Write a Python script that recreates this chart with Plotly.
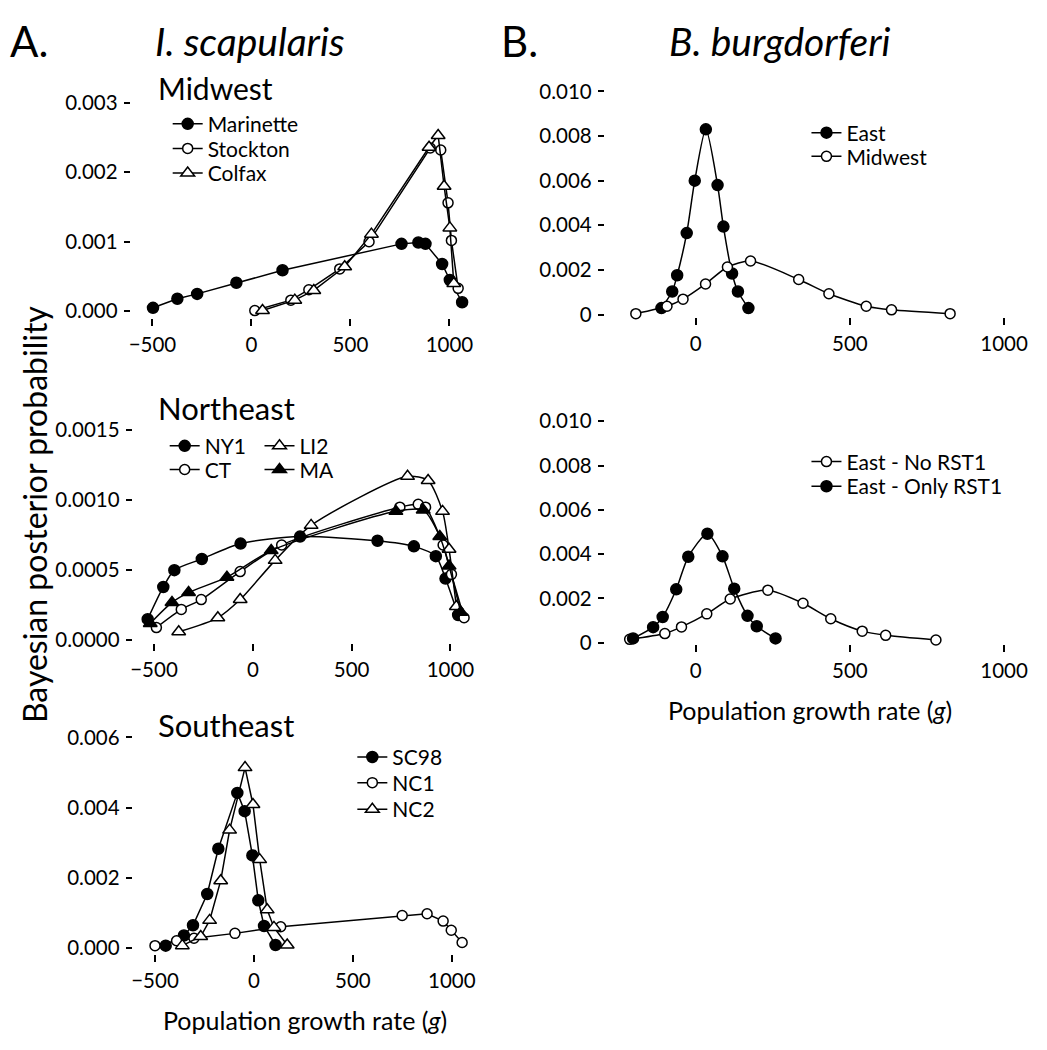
import plotly.graph_objects as go

W, H = 1047, 1050
FONT = "Lato"

# ---------------- data ----------------
# Panel A - Midwest
mw_marinette_g = [-497, -374, -274, -76, 157, 758, 843, 879, 963, 1002, 1064]
mw_marinette_p = [0.00005, 0.00018, 0.00025, 0.00041, 0.00059, 0.00097, 0.00099, 0.00097, 0.00068, 0.00045, 0.00013]
mw_stockton_g = [17, 199, 290, 446, 594, 903, 956, 993, 1010, 1044]
mw_stockton_p = [0.00001, 0.00016, 0.00031, 0.00061, 0.00100, 0.00235, 0.00232, 0.00156, 0.00102, 0.00033]
mw_colfax_g = [56, 219, 315, 471, 606, 897, 943, 973, 1002, 1022]
mw_colfax_p = [0.00001, 0.00016, 0.00030, 0.00064, 0.00111, 0.00236, 0.00253, 0.00180, 0.00120, 0.00040]

# Panel A - Northeast
ne_ny1_g = [-532, -453, -397, -258, -62, 239, 631, 815, 926, 975, 1039]
ne_ny1_p = [0.00015, 0.00038, 0.00050, 0.00058, 0.00069, 0.00074, 0.00071, 0.00067, 0.00060, 0.00044, 0.00018]
ne_ct_g = [-488, -362, -261, -64, 146, 744, 837, 874, 963, 1005, 1069]
ne_ct_p = [0.00009, 0.00022, 0.00029, 0.00049, 0.00068, 0.00095, 0.00097, 0.00095, 0.00068, 0.00047, 0.00016]
ne_li2_g = [-375, -177, -64, 113, 295, 783, 887, 960, 993, 1030]
ne_li2_p = [0.00006, 0.00016, 0.00029, 0.00057, 0.00082, 0.00117, 0.00114, 0.00092, 0.00065, 0.00024]
ne_ma_g = [-519, -409, -325, -131, 93, 724, 862, 946, 993, 1052]
ne_ma_p = [0.00012, 0.00027, 0.00034, 0.00045, 0.00064, 0.00092, 0.00093, 0.00074, 0.00053, 0.00020]

# Panel A - Southeast
se_sc98_g = [-446, -354, -308, -236, -180, -84, -47, -8, 22, 51, 109]
se_sc98_p = [0.00007, 0.00036, 0.00065, 0.00154, 0.00283, 0.00442, 0.00390, 0.00264, 0.00136, 0.00063, 0.00009]
se_nc1_g = [-500, -391, -303, -96, 135, 749, 875, 956, 997, 1052]
se_nc1_p = [0.00007, 0.00021, 0.00028, 0.00042, 0.00061, 0.00093, 0.00098, 0.00077, 0.00051, 0.00016]
se_nc2_g = [-362, -269, -224, -168, -123, -45, -5, 29, 67, 101, 168]
se_nc2_p = [0.00007, 0.00033, 0.00079, 0.00192, 0.00336, 0.00514, 0.00409, 0.00252, 0.00109, 0.00059, 0.00009]

# Panel B - top
b_east_g = [-111, -76, -60, -29, -3, 33, 71, 90, 118, 137, 171]
b_east_p = [0.00029, 0.00103, 0.00176, 0.00365, 0.00600, 0.00830, 0.00580, 0.00394, 0.00184, 0.00103, 0.00029]
b_midwest_g = [-194, -93, -41, 32, 103, 178, 334, 432, 553, 635, 825]
b_midwest_p = [0.00004, 0.00037, 0.00069, 0.00137, 0.00213, 0.00240, 0.00157, 0.00093, 0.00037, 0.00021, 0.00004]

# Panel B - bottom
b_norst_g = [-214, -100, -46, 36, 112, 234, 348, 438, 540, 616, 779]
b_norst_p = [0.00015, 0.00041, 0.00071, 0.00130, 0.00197, 0.00237, 0.00178, 0.00108, 0.00052, 0.00033, 0.00012]
b_onlyrst_g = [-203, -138, -107, -63, -24, 38, 87, 125, 168, 198, 259]
b_onlyrst_p = [0.00019, 0.00070, 0.00116, 0.00241, 0.00388, 0.00492, 0.00390, 0.00244, 0.00121, 0.00074, 0.00019]

# tick labels
a_x_ticks = [-500, 0, 500, 1000]
b_x_ticks = [0, 500, 1000]
mw_y_ticks = [0.0, 0.001, 0.002, 0.003]
mw_y_labels = ["0.000", "0.001", "0.002", "0.003"]
ne_y_ticks = [0.0, 0.0005, 0.0010, 0.0015]
ne_y_labels = ["0.0000", "0.0005", "0.0010", "0.0015"]
se_y_ticks = [0.0, 0.002, 0.004, 0.006]
se_y_labels = ["0.000", "0.002", "0.004", "0.006"]
b_y_ticks = [0.0, 0.002, 0.004, 0.006, 0.008, 0.010]
b_y_labels = ["0", "0.002", "0.004", "0.006", "0.008", "0.010"]

# ---------------- helpers ----------------
def x_axis_geom(pa, va, pb, vb, plo, phi):
    s = (vb - va) / (pb - pa)
    return [plo / W, phi / W], [va + (plo - pa) * s, va + (phi - pa) * s]


def y_axis_geom(pa, va, pb, vb, pbot, ptop):
    s = (vb - va) / (pb - pa)
    return [1 - pbot / H, 1 - ptop / H], [va + (pbot - pa) * s, va + (ptop - pa) * s]


STYLES = {
    "fc": dict(symbol="circle", size=11, color="black", line=dict(color="black", width=1.5)),
    "oc": dict(symbol="circle", size=10, color="white", line=dict(color="black", width=1.5)),
    "ot": dict(symbol="triangle-up", size=12, color="white", line=dict(color="black", width=1.5)),
    "ft": dict(symbol="triangle-up", size=12, color="black", line=dict(color="black", width=1.5)),
}

fig = go.Figure()
LEGFONT = dict(family=FONT, size=21, color="black")
legends = {}


def add(g, p, name, style, ax, leg_xy, shape="linear"):
    key = "legend" if not legends else "legend%d" % (len(legends) + 1)
    lx, ly = leg_xy
    legends[key] = dict(x=lx / W, y=1 - (ly - 3) / H, xref="paper", yref="paper",
                        xanchor="left", yanchor="middle", bgcolor="rgba(0,0,0,0)",
                        borderwidth=0, font=LEGFONT, visible=True)
    fig.add_trace(go.Scatter(
        x=g, y=p, name=name, mode="lines+markers", showlegend=True,
        line=dict(color="black", width=1.5, shape=shape, smoothing=0.7),
        marker=STYLES[style],
        xaxis="x" + ax, yaxis="y" + ax, legend=key, cliponaxis=False,
    ))


add(mw_marinette_g, mw_marinette_p, "Marinette", "fc", "", (166, 123))
add(mw_stockton_g, mw_stockton_p, "Stockton", "oc", "", (166, 148))
add(mw_colfax_g, mw_colfax_p, "Colfax", "ot", "", (166, 173))

add(ne_ny1_g, ne_ny1_p, "NY1", "fc", "2", (163, 450), "spline")
add(ne_ct_g, ne_ct_p, "CT", "oc", "2", (163, 474), "spline")
add(ne_li2_g, ne_li2_p, "LI2", "ot", "2", (258, 450), "spline")
add(ne_ma_g, ne_ma_p, "MA", "ft", "2", (258, 474), "spline")

add(se_sc98_g, se_sc98_p, "SC98", "fc", "3", (351, 766))
add(se_nc1_g, se_nc1_p, "NC1", "oc", "3", (351, 792))
add(se_nc2_g, se_nc2_p, "NC2", "ot", "3", (351, 819))

add(b_east_g, b_east_p, "East", "fc", "4", (806, 132), "spline")
add(b_midwest_g, b_midwest_p, "Midwest", "oc", "4", (806, 156), "spline")

add(b_norst_g, b_norst_p, "East - No RST1", "oc", "5", (806, 466), "spline")
add(b_onlyrst_g, b_onlyrst_p, "East - Only RST1", "fc", "5", (806, 491), "spline")

fig.update_layout(showlegend=True, **legends)

# ---------------- axes ----------------
TICKFONT = dict(family=FONT, size=20.5, color="black")


def xax(domain, rng, tickvals, anchor):
    return dict(domain=domain, range=rng, tickvals=tickvals, ticks="outside", ticklen=7,
                tickwidth=1.5, tickcolor="black", showline=False, showgrid=False,
                zeroline=False, tickfont=TICKFONT, anchor=anchor, ticklabelstandoff=1)


def yax(domain, rng, tickvals, ticktext, anchor):
    return dict(domain=domain, range=rng, tickvals=tickvals, ticktext=ticktext, ticks="outside",
                ticklen=6, tickwidth=1.5, tickcolor="black", showline=False, showgrid=False,
                zeroline=False, tickfont=TICKFONT, anchor=anchor, ticklabelstandoff=2)


a1x_d, a1x_r = x_axis_geom(150.7, -500, 448.3, 1000, 129, 475)
a1y_d, a1y_r = y_axis_geom(310, 0, 98.3, 0.003, 317, 88)
a2x_d, a2x_r = x_axis_geom(152.3, -500, 449.3, 1000, 131, 475)
a2y_d, a2y_r = y_axis_geom(644, 0, 430.7, 0.0015, 647, 420)
a3x_d, a3x_r = x_axis_geom(153.3, -500, 450.7, 1000, 131, 475)
a3y_d, a3y_r = y_axis_geom(956.7, 0, 742.7, 0.006, 963, 735)
b1x_d, b1x_r = x_axis_geom(695, 0, 1004, 1000, 604, 1040)
b1y_d, b1y_r = y_axis_geom(313.3, 0, 86.7, 0.010, 316, 80)
b2x_d, b2x_r = x_axis_geom(695, 0, 1004, 1000, 604, 1040)
b2y_d, b2y_r = y_axis_geom(646.5, 0, 421.7, 0.010, 648, 412)

fig.update_layout(
    xaxis=xax(a1x_d, a1x_r, a_x_ticks, "y"),
    yaxis=yax(a1y_d, a1y_r, mw_y_ticks, mw_y_labels, "x"),
    xaxis2=xax(a2x_d, a2x_r, a_x_ticks, "y2"),
    yaxis2=yax(a2y_d, a2y_r, ne_y_ticks, ne_y_labels, "x2"),
    xaxis3=xax(a3x_d, a3x_r, a_x_ticks, "y3"),
    yaxis3=yax(a3y_d, a3y_r, se_y_ticks, se_y_labels, "x3"),
    xaxis4=xax(b1x_d, b1x_r, b_x_ticks, "y4"),
    yaxis4=yax(b1y_d, b1y_r, b_y_ticks, b_y_labels, "x4"),
    xaxis5=xax(b2x_d, b2x_r, b_x_ticks, "y5"),
    yaxis5=yax(b2y_d, b2y_r, b_y_ticks, b_y_labels, "x5"),
)

# ---------------- text ----------------
ann = []


def text(t, px, py, size, xanchor="left", yanchor="middle", angle=0):
    ann.append(dict(text=t, x=px / W, y=1 - py / H, xref="paper", yref="paper", showarrow=False,
                    xanchor=xanchor, yanchor=yanchor, textangle=angle,
                    font=dict(family=FONT, size=size, color="black")))


text("A.", 6, 36, 42)
text("<i>I. scapularis</i>", 151, 36, 39)
text("B.", 498, 36, 42)
text("<i>B. burgdorferi</i>", 666, 36, 39)
text("Midwest", 154, 83, 30)
text("Northeast", 154, 408, 31)
text("Southeast", 154, 730, 31)
text("Bayesian posterior probability", 32, 516, 32, xanchor="center", angle=-90)
text("Population growth rate (<i>g</i>)", 304, 1030, 25, xanchor="center")
text("Population growth rate (<i>g</i>)", 810, 715, 25, xanchor="center")

fig.update_layout(
    annotations=ann,
    width=W, height=H,
    margin=dict(l=0, r=0, t=0, b=0),
    paper_bgcolor="white", plot_bgcolor="white",
    font=dict(family=FONT, color="black"),
)

fig.write_html("out.html", config={"displayModeBar": False},
               post_script="document.body.style.margin='0';")
